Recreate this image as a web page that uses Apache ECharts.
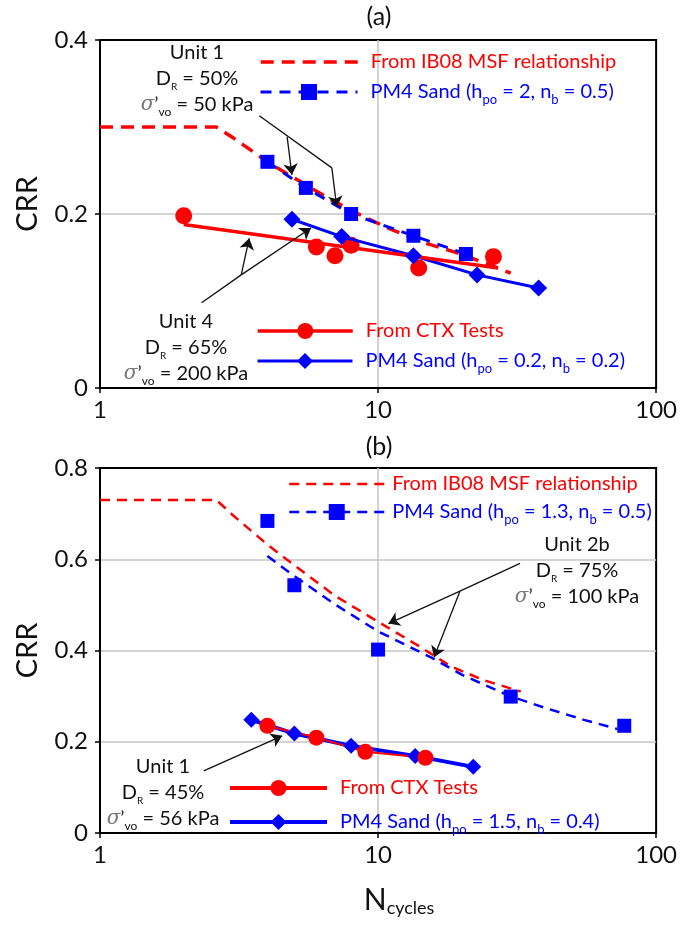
<!DOCTYPE html>
<html>
<head>
<meta charset="utf-8">
<script src="https://cdn.jsdelivr.net/npm/echarts@6/dist/echarts.min.js"></script>
<style>
html,body{margin:0;padding:0;background:#fff}
#chart{width:680px;height:928px}
</style>
</head>
<body>
<div id="chart"></div>
<script>
const F='Lato'
const RED='#ff0000'
const BLUE='#0000ff'

// ---- panel (a) ----
let ib08A=[[1,0.30],[2.62,0.30],[3,0.288],[4,0.26],[4.9,0.243],[6.8,0.216],[9,0.196],[11.2,0.182],[15,0.166],[19.4,0.155],[25,0.142],[30,0.132]]
let pm4DashA=[[4,0.26],[5.5,0.23],[8,0.2],[13.4,0.175],[20.7,0.154]]
let ctxA=[[2,0.198],[6,0.162],[7,0.152],[8,0.164],[14,0.138],[26,0.151]]
let ctxFitA=[[2,0.188],[27,0.138]]
let pm4SolidA=[[4.9,0.194],[7.4,0.174],[13.4,0.152],[22.7,0.13],[37.8,0.115]]

// ---- panel (b) ----
let ib08B=[[1,0.73],[2.62,0.73],[3,0.697],[4,0.632],[5,0.587],[7,0.52],[10,0.463],[14,0.41],[18.3,0.365],[24,0.335],[32.6,0.31]]
let pm4CurveB=[[4,0.607],[5,0.563],[7,0.501],[10,0.442],[15.5,0.385],[20,0.347],[29.8,0.30],[40,0.274],[55,0.248],[72.5,0.228]]
let pm4SquaresB=[[4,0.684],[5,0.543],[10,0.402],[30,0.299],[76.8,0.235]]
let ctxB=[[4,0.235],[6,0.209],[9,0.178],[14.8,0.165]]
let pm4SolidB=[[3.5,0.248],[5,0.218],[8,0.191],[13.6,0.169],[22,0.145]]

// annotation leader lines (data coords)
let leadA=[[[3.74,0.313],[6.82,0.253]],[[2.32,0.098],[3.22,0.130]]]
let arrowA=[[[4.71,0.2885],[4.9,0.245]],[[6.82,0.253],[7.1,0.208]],[[3.22,0.130],[3.44,0.172]],[[3.22,0.130],[5.74,0.184]]]
let leadB=[[[32.4,0.591],[19.7,0.530]]]
let arrowB=[[[19.7,0.530],[10.9,0.459]],[[19.7,0.530],[15.9,0.385]],[[2.36,0.136],[4.52,0.213]]]

let myChart=echarts.init(document.getElementById('chart'))

function rich(color){
  return {
    t:{fontFamily:F,fontSize:20,color:color,lineHeight:28},
    s:{fontFamily:F,fontSize:13,color:color,lineHeight:6,verticalAlign:'bottom'}
  }
}
function noteRich(){
  return {
    t:{fontFamily:F,fontSize:20,color:'#111',lineHeight:26},
    r:{fontFamily:F,fontSize:10,color:'#111',lineHeight:4,verticalAlign:'bottom'},
    s:{fontFamily:F,fontSize:12,color:'#111',lineHeight:4,verticalAlign:'bottom'},
    g:{fontFamily:'DejaVu Serif',fontStyle:'italic',fontSize:20,color:'#777',lineHeight:26},
    p:{fontFamily:F,fontSize:20,color:'#333',lineHeight:26}
  }
}

let legendText={
  'IB08 a':'{t|From IB08 MSF relationship}',
  'PM4 a dash':'{t|PM4 Sand (h}{s|po}{t| = 2, n}{s|b}{t| = 0.5)}',
  'CTX a':'{t|From CTX Tests}',
  'PM4 a solid':'{t|PM4 Sand (h}{s|po}{t| = 0.2, n}{s|b}{t| = 0.2)}',
  'IB08 b':'{t|From IB08 MSF relationship}',
  'PM4 b dash':'{t|PM4 Sand (h}{s|po}{t| = 1.3, n}{s|b}{t| = 0.5)}',
  'CTX b':'{t|From CTX Tests}',
  'PM4 b solid':'{t|PM4 Sand (h}{s|po}{t| = 1.5, n}{s|b}{t| = 0.4)}'
}

function leg(name,color,left,top,w,lw,pad,hideSym){
  let item={name:name}
  if(hideSym) item.itemStyle={opacity:0}
  return {
    data:[item],left:left,top:top,padding:0,orient:'vertical',
    itemWidth:w,itemHeight:20,selectedMode:false,
    lineStyle:{width:lw},
    formatter:n=>legendText[n],
    textStyle:{color:color,fontFamily:F,fontSize:20,padding:[0,0,0,pad],rich:rich(color)}
  }
}

function note(x,y,lines){
  return {text:lines.join('\n'),left:x,top:y,padding:0,textAlign:'center',
    textStyle:{fontFamily:F,fontSize:20,color:'#111',fontWeight:'normal',lineHeight:26,rich:noteRich()}}
}

function xAx(grid,name){
  return {
    type:'log',logBase:10,min:1,max:100,gridIndex:grid,
    name:name,nameLocation:'middle',nameGap:50,
    nameTextStyle:{padding:[0,0,0,42],rich:{n:{fontFamily:F,fontSize:30,color:'#111',lineHeight:34},c:{fontFamily:F,fontSize:18,color:'#111',lineHeight:4,verticalAlign:'bottom'}}},
    axisLine:{show:true,lineStyle:{color:'#000',width:2}},
    axisTick:{show:true,length:5,lineStyle:{color:'#000',width:1.5}},
    axisLabel:{fontFamily:F,fontSize:24,color:'#111',margin:10},
    splitLine:{show:true,showMinLine:false,showMaxLine:false,lineStyle:{color:'#c4c4c4',width:1.5}}
  }
}
function yAx(grid,max,pad){
  return {
    type:'value',min:0,max:max,interval:0.2,gridIndex:grid,
    name:'CRR',nameLocation:'middle',nameGap:58,
    nameTextStyle:{fontFamily:F,fontSize:29,color:'#111',padding:[0,0,0,pad]},
    axisLine:{show:true,lineStyle:{color:'#000',width:2}},
    axisTick:{show:true,length:5,lineStyle:{color:'#000',width:1.5}},
    axisLabel:{fontFamily:F,fontSize:24,color:'#111',margin:12},
    splitLine:{show:true,showMinLine:false,showMaxLine:false,lineStyle:{color:'#c4c4c4',width:1.5}}
  }
}

let option={
  animation:false,
  backgroundColor:'#fff',
  title:[
    {text:'(a)',left:379,top:4,padding:0,textAlign:'center',textStyle:{fontFamily:F,fontSize:25,fontWeight:'normal',color:'#111'}},
    {text:'(b)',left:379,top:434,padding:0,textAlign:'center',textStyle:{fontFamily:F,fontSize:25,fontWeight:'normal',color:'#111'}},
    note(197,40,['{t|Unit 1}','{t|D}{r|R}{t| = 50%}','{g|σ}{p|’}{s|vo}{t| = 50 kPa}']),
    note(186,309,['{t|Unit 4}','{t|D}{r|R}{t| = 65%}','{g|σ}{p|’}{s|vo}{t| = 200 kPa}']),
    note(577,532,['{t|Unit 2b}','{t|D}{r|R}{t| = 75%}','{g|σ}{p|’}{s|vo}{t| = 100 kPa}']),
    note(163,754,['{t|Unit 1}','{t|D}{r|R}{t| = 45%}','{g|σ}{p|’}{s|vo}{t| = 56 kPa}'])
  ],
  legend:[
    leg('IB08 a',RED,259,52,97,3.5,8,true),
    leg('PM4 a dash',BLUE,259,82,97,3,8,false),
    leg('CTX a',RED,256,321,95,3.5,8,false),
    leg('PM4 a solid',BLUE,256,351,95,3,8,false),
    leg('IB08 b',RED,288,474,95,2.5,3,true),
    leg('PM4 b dash',BLUE,288,502,95,2.5,3,false),
    leg('CTX b',RED,228,778,97,4,8,false),
    leg('PM4 b solid',BLUE,228,812,97,4,8,false)
  ],
  grid:[
    {left:100,top:40,width:560,height:348,show:true,borderColor:'#000',borderWidth:2},
    {left:100,top:468,width:560,height:365,show:true,borderColor:'#000',borderWidth:2}
  ],
  xAxis:[xAx(0,''),xAx(1,'{n|N}{c|cycles}')],
  yAxis:[yAx(0,0.4,20),yAx(1,0.8,0)],
  series:[
    // (a)
    {name:'IB08 a',type:'line',xAxisIndex:0,yAxisIndex:0,data:ib08A,symbol:'none',
      lineStyle:{color:RED,width:3.5,type:[13,8]},itemStyle:{color:RED}},
    {name:'PM4 a dash',type:'line',xAxisIndex:0,yAxisIndex:0,data:pm4DashA,symbol:'rect',symbolSize:14,
      lineStyle:{color:BLUE,width:3,type:[11,8]},itemStyle:{color:BLUE}},
    {name:'PM4 a solid',type:'line',xAxisIndex:0,yAxisIndex:0,data:pm4SolidA,symbol:'diamond',symbolSize:17,
      lineStyle:{color:BLUE,width:3},itemStyle:{color:BLUE}},
    {name:'CTX a',type:'line',xAxisIndex:0,yAxisIndex:0,data:ctxFitA,symbol:'circle',showSymbol:false,
      lineStyle:{color:RED,width:3.5},itemStyle:{color:RED}},
    {name:'CTX a pts',type:'scatter',xAxisIndex:0,yAxisIndex:0,data:ctxA,symbol:'circle',symbolSize:17,
      itemStyle:{color:RED,opacity:1}},
    // (b)
    {name:'IB08 b',type:'line',xAxisIndex:1,yAxisIndex:1,data:ib08B,symbol:'none',
      lineStyle:{color:RED,width:2.5,type:[10,7]},itemStyle:{color:RED}},
    {name:'PM4 b dash',type:'line',xAxisIndex:1,yAxisIndex:1,data:pm4CurveB,symbol:'rect',showSymbol:false,
      lineStyle:{color:BLUE,width:2.5,type:[10,7]},itemStyle:{color:BLUE}},
    {name:'PM4 b sq',type:'scatter',xAxisIndex:1,yAxisIndex:1,data:pm4SquaresB,symbol:'rect',symbolSize:14,
      itemStyle:{color:BLUE,opacity:1}},
    {name:'PM4 b solid',type:'line',xAxisIndex:1,yAxisIndex:1,data:pm4SolidB,symbol:'diamond',symbolSize:16,
      lineStyle:{color:BLUE,width:4},itemStyle:{color:BLUE}},
    {name:'CTX b',type:'line',xAxisIndex:1,yAxisIndex:1,data:ctxB,symbol:'circle',symbolSize:16,
      lineStyle:{color:RED,width:2},itemStyle:{color:RED}},
    // leader lines
    {type:'lines',coordinateSystem:'cartesian2d',xAxisIndex:0,yAxisIndex:0,symbol:'none',
      lineStyle:{color:'#111',width:1.3,opacity:1},data:leadA.map(c=>({coords:c})),z:5},
    {type:'lines',coordinateSystem:'cartesian2d',xAxisIndex:0,yAxisIndex:0,symbol:['none','arrow'],symbolSize:11,
      lineStyle:{color:'#111',width:1.3,opacity:1},data:arrowA.map(c=>({coords:c})),z:5},
    {type:'lines',coordinateSystem:'cartesian2d',xAxisIndex:1,yAxisIndex:1,symbol:'none',
      lineStyle:{color:'#111',width:1.3,opacity:1},data:leadB.map(c=>({coords:c})),z:5},
    {type:'lines',coordinateSystem:'cartesian2d',xAxisIndex:1,yAxisIndex:1,symbol:['none','arrow'],symbolSize:11,
      lineStyle:{color:'#111',width:1.3,opacity:1},data:arrowB.map(c=>({coords:c})),z:5}
  ]
}
myChart.setOption(option)
</script>
</body>
</html>
